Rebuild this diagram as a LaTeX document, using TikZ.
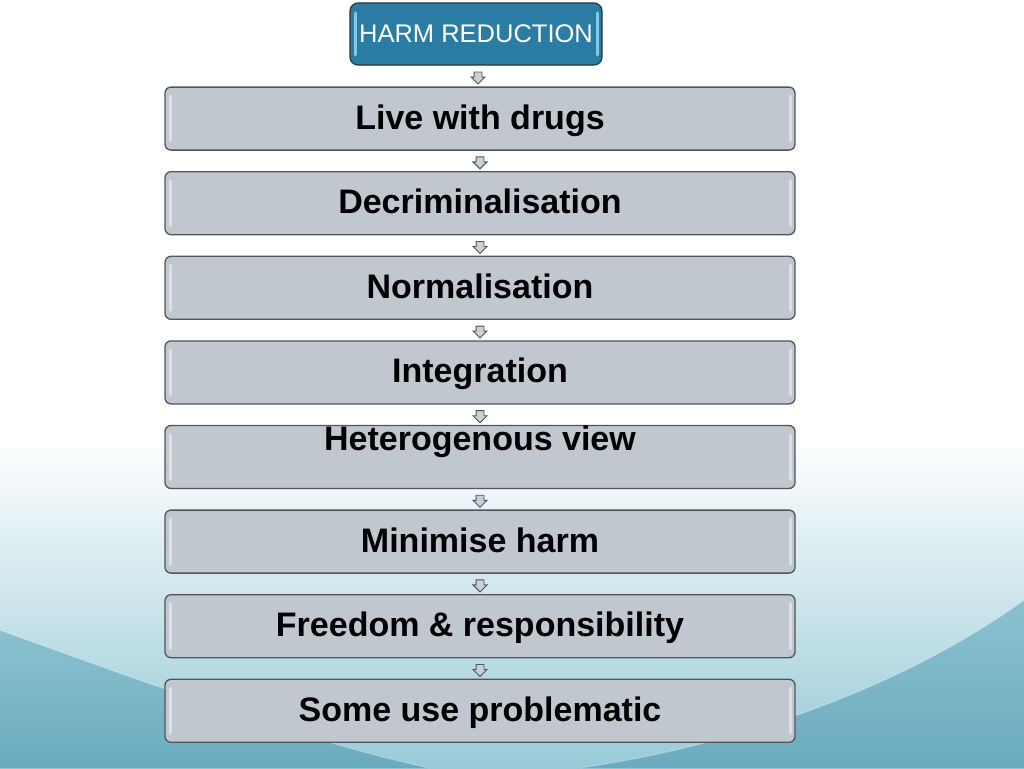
\documentclass[tikz,border=0pt]{standalone}
\usepackage{fontspec}
\setmainfont{Liberation Sans}
\usetikzlibrary{trees,shapes.arrows}
\definecolor{boxfill}{HTML}{C0C7CE}
\definecolor{boxline}{HTML}{50555A}
\definecolor{headfill}{HTML}{2B7CA2}
\definecolor{headline}{HTML}{26343C}
\definecolor{hopfill}{HTML}{C9D0D6}
\definecolor{wavelight}{HTML}{98CAD7}
\definecolor{wavedark}{HTML}{6BABBF}
\tikzstyle{box}=[draw=boxline,line width=1.3pt,fill=boxfill,rounded corners=6pt,
  minimum width=630pt,minimum height=63pt,inner sep=0pt,
  font=\bfseries\fontsize{34}{36}\selectfont,text height=28pt,text depth=7pt,
  path picture={
    \draw[white,opacity=.45,line width=3pt,line cap=round]
      ([shift={(5pt,-9pt)}]path picture bounding box.north west) --
      ([shift={(5pt,9pt)}]path picture bounding box.south west);
    \draw[white,opacity=.45,line width=3pt,line cap=round]
      ([shift={(-5pt,-9pt)}]path picture bounding box.north east) --
      ([shift={(-5pt,9pt)}]path picture bounding box.south east);}]
\tikzstyle{head}=[draw=headline,line width=1.2pt,fill=headfill,rounded corners=8pt,
  minimum width=252pt,minimum height=62pt,inner sep=0pt,text=white,
  font=\fontsize{25.5}{28}\selectfont,text height=20pt,text depth=4pt,
  path picture={
    \draw[cyan!40,opacity=.8,line width=3pt,line cap=round]
      ([shift={(5pt,-10pt)}]path picture bounding box.north west) --
      ([shift={(5pt,10pt)}]path picture bounding box.south west);
    \draw[cyan!40,opacity=.8,line width=3pt,line cap=round]
      ([shift={(-5pt,-10pt)}]path picture bounding box.north east) --
      ([shift={(-5pt,10pt)}]path picture bounding box.south east);}]
\tikzstyle{hop}=[midway,single arrow,shape border rotate=270,draw=boxline,
  line width=.9pt,fill=hopfill,minimum height=12pt,minimum width=13pt,
  inner sep=3.5pt,single arrow head extend=3pt]

\begin{document}
\begin{tikzpicture}[x=1pt,y=1pt,
  grow=down,level distance=84.6pt,
  edge from parent/.style={draw=none},
  edge from parent path={(\tikzparentnode.south) -- (\tikzchildnode.north)}]
  % background
  \useasboundingbox (0,0) rectangle (1024,-768);
  \fill[white] (0,0) rectangle (1024,-768);
  \shade[top color=white,bottom color=wavelight] (0,-440) rectangle (1024,-768);
  \shade[top color=wavelight!70!wavedark,bottom color=wavedark]
    (0,-630) .. controls (160,-688) and (320,-745) .. (430,-768) -- (0,-768) -- cycle;
  \shade[top color=wavelight!70!wavedark,bottom color=wavedark]
    (1024,-600) .. controls (930,-668) and (780,-738) .. (580,-768) -- (1024,-768) -- cycle;
  \draw[white,opacity=.3,line width=1.2pt]
    (0,-630) .. controls (160,-688) and (320,-745) .. (430,-768);
  \draw[white,opacity=.3,line width=1.2pt]
    (1024,-600) .. controls (930,-668) and (780,-738) .. (580,-768);
  % steps
  \node[head] (root) at (476,-34) {HARM REDUCTION}
    child[xshift=4pt] {node[box] (live) {Live with drugs}
      child {node[box] (decrim) {Decriminalisation}
        child {node[box] (normal) {Normalisation}
          child {node[box] (integr) {Integration}
            child {node[box,text height=24pt,text depth=38pt] (hetero) {Heterogenous view}
              child {node[box] (minim) {Minimise harm}
                child {node[box] (freedom) {Freedom \& responsibility}
                  child {node[box] (problem) {Some use problematic}
                    edge from parent node[hop] (h8) {}}
                  edge from parent node[hop] (h7) {}}
                edge from parent node[hop] (h6) {}}
              edge from parent node[hop] (h5) {}}
            edge from parent node[hop] (h4) {}}
          edge from parent node[hop] (h3) {}}
        edge from parent node[hop] (h2) {}}
      edge from parent node[hop] (h1) {}};
\end{tikzpicture}
\end{document}
